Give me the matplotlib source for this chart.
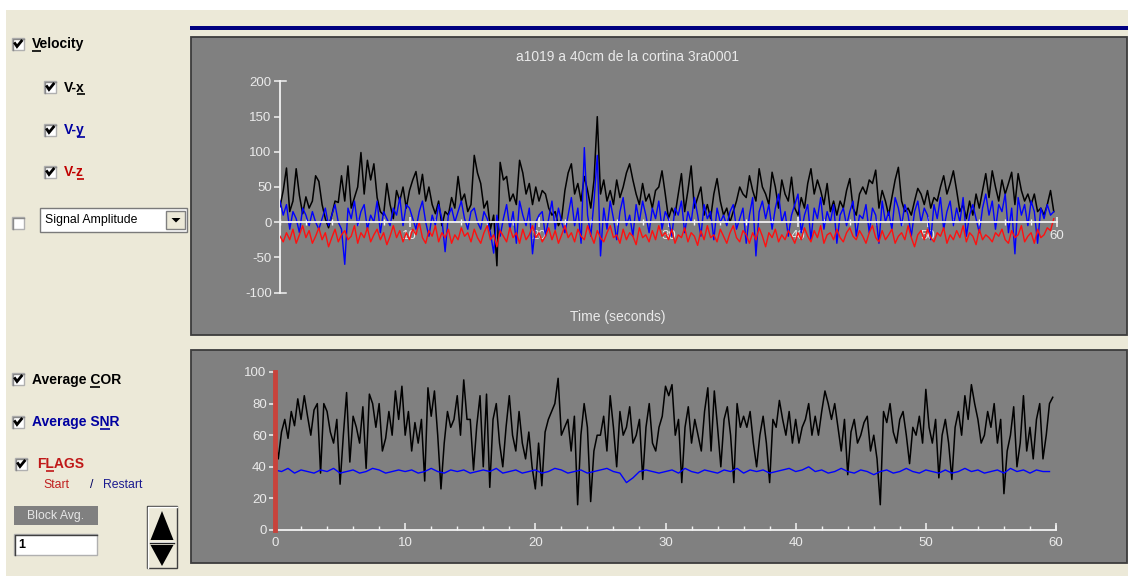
import matplotlib
matplotlib.use('Agg')
import matplotlib.pyplot as plt
import numpy as np
from matplotlib.patches import Rectangle, Polygon
from matplotlib.ticker import MultipleLocator

# ---------------- data ----------------
title = 'a1019 a 40cm de la cortina 3ra0001'
xlabel = 'Time (seconds)'
sample_dt = 0.25     # seconds between velocity / COR samples
snr_dt = 0.5         # seconds between SNR samples

vel_x = [22, 45, 77, 15, 30, 76, 38, 12, 36, 20, 30, 66, 58, 25, 5, -8, 10, 30, 28, 66,
         30, 80, 20, 35, 50, 99, 40, 88, 60, 83, 35, 15, 10, 55, 25, 5, 45, 30, 50, 20,
         45, 60, 72, 40, 68, 30, 50, 25, 12, 30, -5, 15, 10, 35, 20, 65, 30, 40, 15, 25,
         95, 70, 55, 20, 30, -10, 10, -62, 85, 60, 65, 30, 40, 25, 88, 70, 40, 55, 25, 50,
         30, 45, 40, 20, 10, 15, -5, 5, 45, 70, 83, 40, 55, 30, 65, 45, 20, 60, 150, 40,
         60, 30, 45, 25, 60, 35, 50, 70, 83, 60, 40, 25, 55, 30, 40, 20, 45, 50, 73, 40,
         5, 20, 10, 40, 69, 15, 45, 80, 20, 35, 50, 10, 25, 5, 40, 62, 30, 10, 20, 0,
         15, 30, 50, 40, 35, 66, 45, 30, 76, 50, 40, 25, 71, 50, 20, 60, 40, 30, 64, 20,
         10, 35, 20, 55, 76, 40, 60, 45, 25, 55, 15, 30, 10, 30, 20, 45, 62, 20, 10, 40,
         50, 40, 60, 55, 74, 20, 45, 30, 10, 35, 60, 78, 30, 15, 20, 10, 30, 48, 40, 25,
         45, 20, 35, 30, 50, 66, 40, 55, 73, 45, 15, 25, 5, 30, 10, 40, 20, 45, 69, 35,
         73, 50, 30, 60, 40, 55, 71, 25, 69, 45, 30, 40, 25, 40, 15, 20, 10, 25, 45, 15]

vel_y = [30, 10, 25, -10, 15, 5, -15, 20, 10, -5, 15, 0, -10, 5, 20, -5, 10, 25, 0, -10,
         -60, 20, 5, 30, -5, 15, 25, -10, 10, 0, 30, -15, 15, 5, -5, 20, 10, 35, -5, 25,
         20, 5, -10, 15, 30, 0, -20, 10, -5, 25, 5, -42, 10, 20, 0, 15, 30, 5, -10, 15,
         20, 0, -10, 15, 5, -15, -44, 10, -20, 5, 25, -10, 15, -30, 30, 10, -5, 20, -45, 0,
         10, 15, -20, 5, 30, -10, 20, 0, -15, 10, 35, -5, 20, -30, 106, 10, -20, 30, 95, -48,
         20, -10, 30, 5, -25, 15, 35, -5, 10, -20, 25, 0, 30, 10, -15, 20, 5, 30, -10, 15,
         5, -20, 20, 10, 30, -15, 15, 0, 35, 10, -20, 25, 5, 15, -25, 20, 0, 10, -5, 15,
         25, -10, 5, 20, -30, 10, 35, -48, 15, 30, 5, 25, -10, 20, 40, 0, 15, -20, 10, 25,
         40, -15, 10, 25, -25, 20, 5, 35, -10, 15, 0, 25, -30, 10, 20, -5, 15, 30, -20, 10,
         5, 25, -15, 20, 10, -30, 30, 0, 15, -10, 35, 20, -5, 25, 10, -20, 15, 30, 0, 20,
         10, -25, 25, 5, 35, -10, 15, 30, -5, 20, 0, 35, -20, 10, 25, 5, -15, 20, 40, 10,
         30, -10, 25, 15, 40, -15, 20, -45, 35, 10, 25, -5, 30, 15, -30, 20, 5, 25, 10, 15]

vel_z = [-20, -28, -15, -25, -10, -30, -18, -5, -22, -12, -30, -20, -8, -25, -15, -35, -22, -10, -28, -18,
         -12, -25, -20, -5, -30, -15, -22, -8, -28, -18, -10, -25, -15, -32, -20, -5, -22, -12, -28, -15,
         -25, -10, -18, 0, -22, -30, -12, -20, -5, -28, -15, -22, -10, -30, -18, -25, -8, -20, -15, -28,
         -10, -22, -30, -15, -5, -25, -18, -35, -12, -20, -28, -8, -22, -15, -30, -10, -25, -18, -5, -22,
         -15, -28, -20, -8, -25, -12, -30, -18, -5, -22, -15, -28, -10, -20, -25, -5, -18, -30, -12, -22,
         -28, -15, -5, -22, -18, -30, -10, -25, -15, -20, -32, -8, -22, -18, -28, -12, -25, -5, -20, -15,
         -25, -10, -30, -18, -22, -8, -28, -15, -20, -33, -12, -25, -5, -22, -18, -28, -10, -20, -30, -15,
         -5, -22, -28, -12, -18, -30, -15, -25, -8, -20, -35, -15, -22, -10, -28, -18, -25, -12, -20, -30,
         -15, -25, -8, -20, -28, -12, -22, -5, -30, -18, -15, -25, -10, -22, -28, -15, -8, -20, -25, -12,
         -20, -30, -15, -5, -22, -28, -12, -25, -18, -10, -30, -20, -15, -25, -5, -22, -35, -18, -12, -25,
         -10, -22, -28, -15, -20, -8, -30, -18, -25, -12, -22, -5, -28, -15, -20, -32, -10, -25, -18, -22,
         -28, -15, -20, -10, -25, -30, -12, -22, -18, -5, -28, -20, -15, -30, -10, -22, -18, -8, -12, 5]

avg_cor = [60, 45, 62, 70, 58, 75, 66, 83, 70, 85, 72, 60, 76, 80, 36, 80, 75, 62, 55, 70,
           29, 60, 87, 43, 72, 65, 55, 78, 39, 86, 80, 65, 80, 50, 58, 75, 60, 88, 70, 91,
           60, 75, 50, 68, 55, 70, 31, 90, 72, 88, 60, 26, 55, 75, 65, 70, 85, 60, 95, 70,
           70, 38, 66, 85, 40, 86, 27, 70, 80, 55, 40, 65, 85, 60, 50, 75, 55, 45, 62, 40,
           26, 55, 28, 62, 70, 75, 80, 96, 60, 65, 70, 50, 72, 16, 60, 80, 65, 18, 50, 60,
           60, 72, 50, 85, 65, 40, 75, 60, 65, 78, 55, 60, 70, 32, 65, 80, 55, 50, 65, 72,
           91, 85, 92, 60, 70, 30, 65, 78, 55, 70, 60, 50, 75, 90, 50, 88, 65, 40, 70, 78,
           60, 30, 80, 65, 72, 65, 75, 55, 40, 60, 72, 55, 30, 70, 65, 82, 70, 60, 75, 55,
           70, 55, 65, 70, 80, 60, 72, 60, 75, 88, 80, 70, 80, 65, 50, 70, 35, 62, 70, 55,
           60, 68, 72, 50, 60, 45, 16, 75, 68, 80, 62, 55, 70, 75, 60, 42, 65, 60, 72, 55,
           89, 65, 55, 70, 33, 60, 70, 55, 32, 65, 75, 60, 85, 70, 92, 80, 70, 55, 60, 75,
           65, 80, 55, 70, 23, 50, 60, 78, 40, 55, 85, 50, 65, 45, 70, 80, 45, 60, 80, 84]

avg_snr = [38, 37, 39, 36, 38, 37, 36, 38, 37, 39, 36, 37, 38, 36, 37, 39, 38, 36, 37, 38,
           37, 38, 36, 37, 39, 37, 36, 38, 37, 38, 36, 37, 38, 37, 39, 36, 37, 38, 36, 37,
           38, 36, 37, 39, 38, 36, 37, 38, 36, 37, 38, 39, 37, 36, 30, 33, 37, 38, 37, 36,
           37, 38, 36, 39, 37, 36, 38, 37, 36, 38, 37, 39, 36, 38, 37, 38, 36, 37, 38, 39,
           37, 38, 40, 37, 38, 36, 37, 39, 37, 36, 38, 37, 35, 37, 38, 36, 37, 39, 37, 36,
           38, 37, 36, 38, 36, 37, 39, 37, 38, 36, 37, 38, 36, 39, 37, 38, 36, 38, 37, 37]

upper_xticks = [10, 20, 30, 40, 50, 60]
upper_yticks = [-100, -50, 0, 50, 100, 150, 200]
lower_xticks = [0, 10, 20, 30, 40, 50, 60]
lower_yticks = [0, 20, 40, 60, 80, 100]

# ---------------- style ----------------
W, H = 1128, 576
BEIGE = '#ECE9D8'
PANEL = '#808080'
AXC = '#F2F2F2'
TXT = '#EAEAEA'
FONT = 'Liberation Sans'

plt.rcParams['font.family'] = [FONT, 'DejaVu Sans']

fig = plt.figure(figsize=(W / 100, H / 100), dpi=100, facecolor=BEIGE)
bg = fig.add_axes([0, 0, 1, 1])
bg.set_xlim(0, W)
bg.set_ylim(H, 0)
bg.axis('off')


def px_rect(x0, y0, x1, y1):
    return [x0 / W, 1 - y1 / H, (x1 - x0) / W, (y1 - y0) / H]


# window frame pieces
bg.add_patch(Rectangle((0, 0), W, 10, fc='white', ec='none'))
bg.add_patch(Rectangle((0, 0), 6, H, fc='white', ec='none'))
bg.add_patch(Rectangle((190, 26), W - 190, 4, fc='#000080', ec='none'))
bg.add_patch(Rectangle((190.5, 36.5), 936.5, 298, fc=PANEL, ec='#3c3c3c', lw=1.3))
bg.add_patch(Rectangle((190.5, 349.5), 936.5, 213.5, fc=PANEL, ec='#3c3c3c', lw=1.3))

renderer = fig.canvas.get_renderer()


def text_width(s, size, weight):
    t = bg.text(0, 0, s, fontsize=size, fontweight=weight, family=FONT)
    w = t.get_window_extent(renderer).width
    t.remove()
    return w


def label(x, y, s, color, ul=None, bold=True, size=10):
    weight = 'bold' if bold else 'normal'
    bg.text(x, y, s, color=color, fontsize=size, fontweight=weight, family=FONT,
            va='center', ha='left')
    if ul is not None:
        w1 = text_width(s[:ul + 1], size, weight)
        wc = text_width(s[ul], size, weight)
        bg.plot([x + w1 - wc, x + w1], [y + 6.5, y + 6.5], color=color, lw=1.2,
                solid_capstyle='butt')


def checkbox(x, y, checked=True):
    bg.add_patch(Rectangle((x, y), 12, 12, fc='white', ec='#b0b0b0', lw=1))
    bg.plot([x + 0.5, x + 0.5, x + 12], [y + 12, y + 0.5, y + 0.5], color='#8a8a8a', lw=1)
    if checked:
        bg.plot([x + 3, x + 5, x + 9.5], [y + 5.5, y + 8.5, y + 3], color='black', lw=2.0,
                solid_joinstyle='miter')


# left controls
checkbox(12, 38)
label(32, 44, 'Velocity', 'black', ul=0)
checkbox(44, 81)
label(64, 87.5, 'V-x', 'black', ul=2)
checkbox(44, 124)
label(64, 130, 'V-y', '#0000A0', ul=2)
checkbox(44, 166)
label(64, 172, 'V-z', '#C00000', ul=2)
checkbox(12, 217, checked=False)
bg.add_patch(Rectangle((40, 208), 147, 24, fc='white', ec='#7a7a7a', lw=1))
bg.text(45, 220.5, 'Signal Amplitude', color='black', fontsize=8.8, family=FONT, va='center')
bg.add_patch(Rectangle((166, 211), 19, 18, fc=BEIGE, ec='#808080', lw=1))
bg.add_patch(Polygon([(171.5, 218), (180.5, 218), (176, 222.5)], closed=True, fc='black', ec='none'))

checkbox(12, 373)
label(32, 380, 'Average COR', 'black', ul=8)
checkbox(12, 416)
label(32, 422, 'Average SNR', '#0000A0', ul=9)
checkbox(15, 458)
label(37, 464, 'FLAGS', '#C01818', ul=1)
bg.text(43, 485, 'Start', color='#C02020', fontsize=8.8, family=FONT, va='center')
bg.text(90, 485, '/', color='#000060', fontsize=8.8, family=FONT, va='center')
bg.text(103, 485, 'Restart', color='#1A1A90', fontsize=8.8, family=FONT, va='center')
bg.add_patch(Rectangle((14, 506), 84, 19, fc='#808080', ec='none'))
bg.text(56, 515.5, 'Block Avg.', color='#E6E6E6', fontsize=8.8, family=FONT,
        va='center', ha='center')
bg.add_patch(Rectangle((14, 534), 83, 21, fc='white', ec='#b0b0b0', lw=1))
bg.plot([14.5, 14.5, 97], [555, 534.5, 534.5], color='#404040', lw=1)
bg.text(18, 545, '1', color='black', fontsize=9, fontweight='bold', family=FONT, va='center')
bg.add_patch(Rectangle((147, 506), 30, 62, fc=BEIGE, ec='#404040', lw=1))
bg.plot([147.5, 147.5, 176.5], [567.5, 506.5, 506.5], color='white', lw=1)
bg.add_patch(Polygon([(162, 511), (150.5, 540), (173.5, 540)], closed=True, fc='black', ec='none'))
bg.add_patch(Polygon([(150.5, 545), (173.5, 545), (162, 566)], closed=True, fc='black', ec='none'))
bg.plot([150, 174], [541.5, 541.5], color='white', lw=1)
bg.plot([150, 174], [543.2, 543.2], color='#202020', lw=1)

# panel texts
bg.text(628, 57, title, color=TXT, fontsize=10, family=FONT, ha='center', va='center')
bg.text(618, 316.5, xlabel, color=TXT, fontsize=10, family=FONT, ha='center', va='center')


def style_axes(ax):
    ax.patch.set_visible(False)
    for s in ('top', 'right'):
        ax.spines[s].set_visible(False)
    for s in ('left', 'bottom'):
        ax.spines[s].set_color(AXC)
        ax.spines[s].set_linewidth(1.3)
    ax.tick_params(colors=AXC, labelcolor=TXT, labelsize=9.5, width=1.1)


# ---------------- upper velocity plot ----------------
t_vel = np.arange(len(vel_x)) * sample_dt
ax1 = fig.add_axes(px_rect(280, 81.5, 1057, 292.5))
style_axes(ax1)
ax1.set_xlim(0, 60)
ax1.set_ylim(-100, 200)
ax1.spines['bottom'].set_position(('data', 0))
ax1.plot(t_vel, vel_x, color='black', lw=1.1, zorder=3)
ax1.plot(t_vel, vel_y, color='#0000FF', lw=1.0, zorder=4)
ax1.plot(t_vel, vel_z, color='#FF1010', lw=1.0, zorder=5)
ax1.spines['bottom'].set_zorder(6)
ax1.set_xticks(upper_xticks)
ax1.set_xticklabels([str(v) for v in upper_xticks])
ax1.xaxis.set_minor_locator(MultipleLocator(2))
ax1.tick_params(axis='x', which='major', direction='inout', length=7, pad=2.5)
ax1.tick_params(axis='x', which='minor', direction='inout', length=5, color=AXC, width=1.0)
ax1.set_yticks(upper_yticks)
ax1.set_yticklabels([str(v) for v in upper_yticks])
ax1.tick_params(axis='y', direction='out', length=4, pad=2)
ax1.plot([0, 0.45], [200, 200], color=AXC, lw=1.1, clip_on=False)
ax1.plot([0, 0.45], [-100, -100], color=AXC, lw=1.1, clip_on=False)

# ---------------- lower COR / SNR plot ----------------
t_cor = np.arange(len(avg_cor)) * sample_dt
t_snr = np.arange(len(avg_snr)) * snr_dt
ax2 = fig.add_axes(px_rect(275, 372, 1056, 530))
style_axes(ax2)
ax2.set_xlim(0, 60)
ax2.set_ylim(0, 100)
ax2.plot(t_cor, avg_cor, color='black', lw=1.1, zorder=3)
ax2.plot(t_snr, avg_snr, color='#0000FF', lw=1.0, zorder=4)
ax2.axvline(0, color='#C8433C', lw=3.5, zorder=5, clip_on=False)
ax2.set_xticks(lower_xticks)
ax2.set_xticklabels([str(v) for v in lower_xticks])
ax2.xaxis.set_minor_locator(MultipleLocator(2))
ax2.tick_params(axis='x', which='major', direction='in', length=5, pad=5)
ax2.tick_params(axis='x', which='minor', direction='in', length=3, color=AXC, width=1.0)
ax2.set_yticks(lower_yticks)
ax2.set_yticklabels([str(v) for v in lower_yticks])
ax2.tick_params(axis='y', direction='out', length=4, pad=2)
ax2.plot([60, 60], [0, 2.5], color=AXC, lw=1.1, clip_on=False)

fig.savefig('out.png', dpi=100, facecolor=BEIGE)
